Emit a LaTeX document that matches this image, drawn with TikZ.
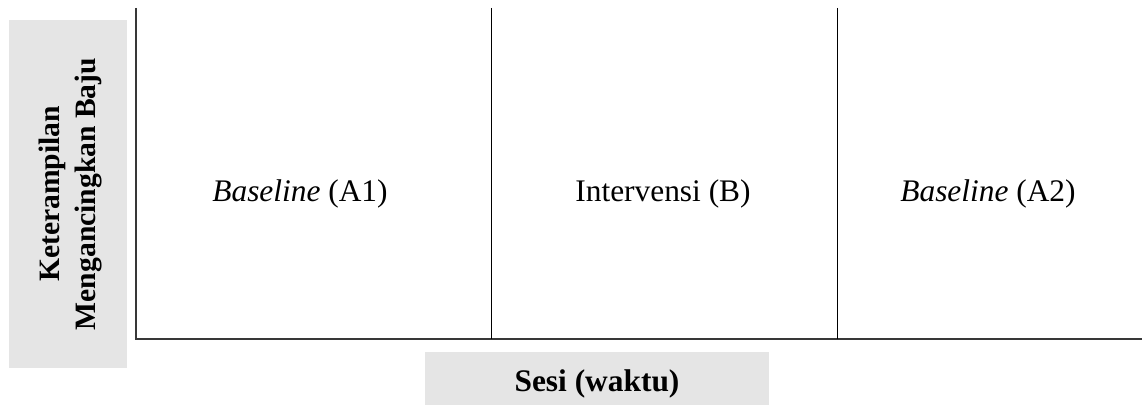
\documentclass[tikz,border=0pt]{standalone}
\usepackage{fontspec}
\setmainfont{Liberation Serif}
\begin{document}
\begin{tikzpicture}[x=0.5pt,y=-0.5pt,
  labelbox/.style={fill=black!10,draw=none,inner sep=0pt},
  axisline/.style={draw=black!78,line width=1pt},
  phaseline/.style={draw=black,line width=0.8pt},
  phasetext/.style={font=\fontsize{15.7pt}{18pt}\selectfont}]
\useasboundingbox (0,0) rectangle (1142,405);
% axis label boxes
\node[labelbox,minimum width=59pt,minimum height=174pt] (ybox) at (68,194) {};
\node[rotate=90,align=center,font=\bfseries\fontsize{14.8pt}{18pt}\selectfont] (ylab) at (70,194)
  {Keterampilan\\Mengancingkan Baju};
\node[labelbox,minimum width=172pt,minimum height=26.5pt] (xbox) at (597,378.5) {};
\node[font=\bfseries\fontsize{15.7pt}{18pt}\selectfont] (xlab) at (597,384) {Sesi (waktu)};
% axes
\coordinate (ytop) at (136,8);
\coordinate (origin) at (136,339.5);
\coordinate (xend) at (1142,339.5);
\draw[axisline] (ytop) -- (origin) -- (xend);
% phase change lines
\coordinate (d1top) at (491.5,8);
\coordinate (d1bot) at (491.5,339.5);
\coordinate (d2top) at (837.5,8);
\coordinate (d2bot) at (837.5,339.5);
\draw[phaseline] (d1top) -- (d1bot);
\draw[phaseline] (d2top) -- (d2bot);
% phase names
\node[phasetext] (pa1) at (300,194) {\textit{Baseline} (A1)};
\node[phasetext] (pb) at (663,194) {Intervensi (B)};
\node[phasetext] (pa2) at (988,194) {\textit{Baseline} (A2)};
\end{tikzpicture}
\end{document}
